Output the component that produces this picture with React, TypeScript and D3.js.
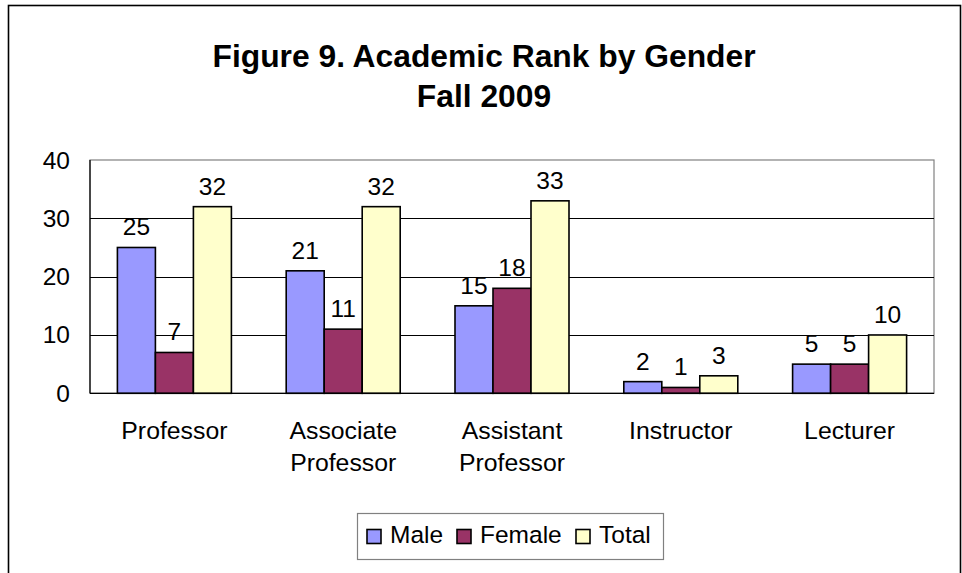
import { useEffect, useRef } from "react";
import * as d3 from "d3";

const categories = [
  "Professor",
  "Associate Professor",
  "Assistant Professor",
  "Instructor",
  "Lecturer",
];
const seriesNames = ["Male", "Female", "Total"];
const maleValues = [25, 21, 15, 2, 5];
const femaleValues = [7, 11, 18, 1, 5];
const totalValues = [32, 32, 33, 3, 10];
const yTicks = [0, 10, 20, 30, 40];
const titleLines = ["Figure 9. Academic Rank by Gender", "Fall 2009"];

const colors = ["#9999FF", "#993366", "#FFFFCC"];
const FONT = "'Liberation Sans', Arial, sans-serif";

const App = () => {
  const svgRef = useRef<SVGSVGElement>(null);

  useEffect(() => {
    const W = 962;
    const H = 573;
    // plot area
    const left = 90;
    const right = 934;
    const top = 160;
    const bottom = 393.3;

    const svg = d3.select(svgRef.current);
    svg.selectAll("*").remove();
    svg.attr("width", W).attr("height", H);

    // outer chart frame
    svg
      .append("rect")
      .attr("x", 8.5)
      .attr("y", 5.5)
      .attr("width", 952)
      .attr("height", 620)
      .attr("fill", "#fff")
      .attr("stroke", "#000")
      .attr("stroke-width", 1.6);

    // title
    svg
      .append("g")
      .selectAll("text")
      .data(titleLines)
      .enter()
      .append("text")
      .attr("x", 484)
      .attr("y", (d, i) => 67 + i * 40)
      .attr("text-anchor", "middle")
      .attr("font-family", FONT)
      .attr("font-weight", "bold")
      .attr("font-size", 31.8)
      .text((d) => d);

    // scales
    const x = d3.scaleBand().domain(categories).range([left, right]);
    const step = x.bandwidth();
    const barW = 38;
    const gap = (step - barW * 3) / 2;
    const xs = d3.scaleBand().domain(seriesNames).range([gap, step - gap]);
    const y = d3.scaleLinear().domain([0, 40]).range([bottom, top]);

    // plot frame (grey top/right)
    svg
      .append("rect")
      .attr("x", left)
      .attr("y", top)
      .attr("width", right - left)
      .attr("height", bottom - top)
      .attr("fill", "#fff")
      .attr("stroke", "#808080")
      .attr("stroke-width", 1.2);

    // gridlines
    svg
      .append("g")
      .selectAll("line")
      .data(yTicks.filter((t) => t > 0 && t < 40))
      .enter()
      .append("line")
      .attr("x1", left)
      .attr("x2", right)
      .attr("y1", (d) => Math.round(y(d)) + 0.5)
      .attr("y2", (d) => Math.round(y(d)) + 0.5)
      .attr("stroke", "#000")
      .attr("stroke-width", 1);

    // bars
    const seriesValues = [maleValues, femaleValues, totalValues];
    const barData = categories.flatMap((c, ci) =>
      seriesNames.map((s, si) => ({ c, s, si, v: seriesValues[si][ci] }))
    );

    const barsG = svg.append("g");
    barsG
      .selectAll("rect")
      .data(barData)
      .enter()
      .append("rect")
      .attr("x", (d) => x(d.c)! + xs(d.s)!)
      .attr("y", (d) => y(d.v))
      .attr("width", xs.bandwidth())
      .attr("height", (d) => bottom - y(d.v))
      .attr("fill", (d) => colors[d.si])
      .attr("stroke", "#000")
      .attr("stroke-width", 1.6);

    // value labels
    barsG
      .selectAll("text")
      .data(barData)
      .enter()
      .append("text")
      .attr("x", (d) => x(d.c)! + xs(d.s)! + xs.bandwidth() / 2)
      .attr("y", (d) => y(d.v) - 12)
      .attr("text-anchor", "middle")
      .attr("font-family", FONT)
      .attr("font-size", 24.5)
      .text((d) => d.v);

    // axes lines
    svg
      .append("line")
      .attr("x1", left)
      .attr("x2", left)
      .attr("y1", top)
      .attr("y2", bottom)
      .attr("stroke", "#000")
      .attr("stroke-width", 1.2);
    svg
      .append("line")
      .attr("x1", left)
      .attr("x2", right)
      .attr("y1", bottom)
      .attr("y2", bottom)
      .attr("stroke", "#000")
      .attr("stroke-width", 1.2);

    // y tick labels
    svg
      .append("g")
      .selectAll("text")
      .data(yTicks)
      .enter()
      .append("text")
      .attr("x", 70)
      .attr("y", (d) => y(d) + 8.5)
      .attr("text-anchor", "end")
      .attr("font-family", FONT)
      .attr("font-size", 24.5)
      .text((d) => d);

    // category labels (wrapped)
    const catG = svg
      .append("g")
      .selectAll("text")
      .data(categories)
      .enter()
      .append("text")
      .attr("text-anchor", "middle")
      .attr("font-family", FONT)
      .attr("font-size", 24.8);
    catG
      .selectAll("tspan")
      .data((d) => d.split(" ").map((w) => ({ w, c: d })))
      .enter()
      .append("tspan")
      .attr("x", (d) => x(d.c)! + step / 2)
      .attr("y", (d, i) => 439 + i * 32)
      .text((d) => d.w);

    // legend
    const lg = svg.append("g");
    lg.append("rect")
      .attr("x", 357.5)
      .attr("y", 513.5)
      .attr("width", 306)
      .attr("height", 46)
      .attr("fill", "#fff")
      .attr("stroke", "#808080")
      .attr("stroke-width", 1.2);
    const legendX = [367, 457, 576];
    const items = lg
      .selectAll("g.item")
      .data(seriesNames)
      .enter()
      .append("g")
      .attr("class", "item")
      .attr("transform", (d, i) => `translate(${legendX[i]},0)`);
    items
      .append("rect")
      .attr("x", 0)
      .attr("y", 529.5)
      .attr("width", 14)
      .attr("height", 14)
      .attr("fill", (d, i) => colors[i])
      .attr("stroke", "#000")
      .attr("stroke-width", 1.6);
    items
      .append("text")
      .attr("x", 23)
      .attr("y", 543)
      .attr("font-family", FONT)
      .attr("font-size", 24.5)
      .text((d) => d);
  }, []);

  return (
    <svg
      ref={svgRef}
      style={{ position: "absolute", left: 0, top: 0, display: "block" }}
    ></svg>
  );
};

export default App;
